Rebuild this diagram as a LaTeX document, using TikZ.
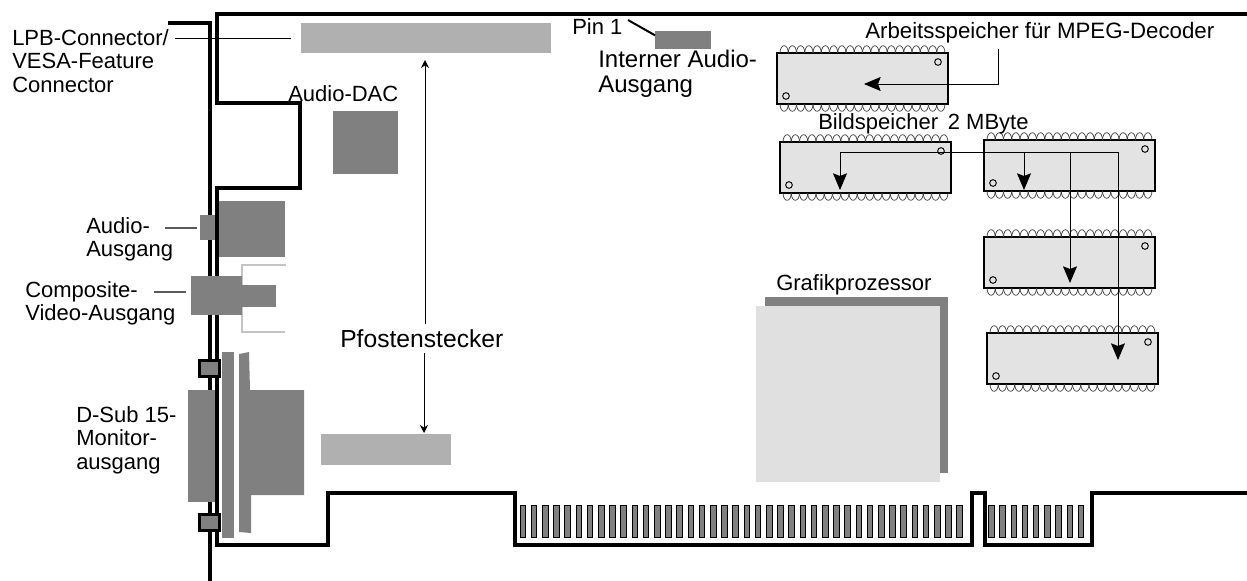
\documentclass[tikz,border=0pt]{standalone}
\usepackage{fontspec}
\usepackage{tikz}
\usepackage{xcolor}
\usetikzlibrary{arrows.meta,positioning,calc}
\setmainfont{Liberation Sans}
\definecolor{partdark}{HTML}{808080}
\definecolor{partlight}{HTML}{B0B0B0}
\definecolor{chipfill}{HTML}{E3E3E3}
\definecolor{cpufill}{HTML}{E0E0E0}
\definecolor{rimgrey}{HTML}{C4C4C4}
\tikzset{
  txt/.style={font=\fontsize{16.5}{17.7}\selectfont, align=left, inner sep=0pt, anchor=north west},
  txtwide/.style={txt, font=\fontsize{18.5}{20}\selectfont},
  darkpart/.style={fill=partdark, inner sep=0pt, outer sep=0pt, anchor=north west},
  lightpart/.style={fill=partlight, inner sep=0pt, outer sep=0pt, anchor=north west},
  chipbody/.style={draw=black, line width=0.9pt, fill=chipfill, inner sep=0pt, outer sep=0pt, anchor=north west, minimum width=128.25pt, minimum height=38.25pt},
  chippin/.style={draw=black!75, line width=0.55pt},
  lug/.style={draw=black, line width=2.3pt, fill=partdark, inner sep=0pt, anchor=north west, minimum width=15pt, minimum height=12pt},
  finger/.style={draw=black, line width=0.5pt, fill=partdark},
  board/.style={draw=black, line width=2.6pt, line join=miter},
  leader/.style={draw=black, line width=0.7pt},
  leadergrey/.style={draw=black!65, line width=0.8pt},
  bigflow/.style={-{Stealth[length=12.5pt, width=10.5pt, inset=2pt]}, draw=black, line width=0.7pt},
  smallflow/.style={-{Stealth[length=6pt, width=6pt]}, draw=black, line width=0.7pt}
}
\newcommand{\memchip}[3]{
  \node[chipbody] (#1) at (#2,#3) {};
  \foreach \i in {0,...,19}{
    \draw[chippin] ({#2+3+8.25*\i},#3) arc[start angle=180, end angle=0, x radius=3.09pt, y radius=5.5pt];
    \draw[chippin] ({#2+3+8.25*\i},#3+51) arc[start angle=180, end angle=360, x radius=3.09pt, y radius=5.5pt];
  }
  \draw[line width=2.2pt] (#1.north west) -- (#1.south west);
  \draw[line width=0.7pt] (#2+161,#3+9) circle[radius=2.5pt];
  \draw[line width=0.7pt] (#2+9,#3+43) circle[radius=2.5pt];
}

\begin{document}
\begin{tikzpicture}[x=0.75pt, y=-0.75pt]
  \useasboundingbox (0,0) rectangle (1247,581);

  % Slotblech
  \draw[board] (168,23) -- (210,23) -- (210,581);
  \node[darkpart, minimum width=22.5pt, minimum height=84pt] (dsubleft) at (188,390) {};
  \node[darkpart, minimum width=13.5pt, minimum height=18.75pt] (audioplug) at (200,215) {};

  % Platine
  \draw[board] (1247,14) -- (217,14) -- (217,103) -- (300,103) -- (300,188) -- (217,188) -- (217,545)
    -- (328,545) -- (328,493) -- (515,493) -- (515,545) -- (972,545) -- (972,493) -- (985,493) -- (985,545)
    -- (1092,545) -- (1092,493) -- (1247,493);
  \foreach \i in {0,...,39}{
    \draw[finger] ({520+11.2*\i},505) rectangle ++(5.5,32);
  }
  \foreach \i in {0,...,8}{
    \draw[finger] ({988.5+11.2*\i},505) rectangle ++(5.5,32);
  }

  % Anschluesse
  \node[lightpart, minimum width=187.5pt, minimum height=22.5pt] (lpb) at (301,23) {};
  \node[lightpart, minimum width=97.5pt, minimum height=23.25pt] (header) at (321,434) {};
  \node[darkpart, minimum width=48.75pt, minimum height=47.25pt] (dac) at (333,111) {};
  \node[darkpart, minimum width=49.5pt, minimum height=42pt] (audiobox) at (219,201) {};
  \draw[draw=rimgrey, line width=0.8pt] (286,265) -- (242,265) -- (242,332) -- (285,332);
  \node[darkpart, minimum width=38.25pt, minimum height=29.25pt] (videobox) at (191,276) {};
  \node[darkpart, minimum width=25.5pt, minimum height=16.5pt] (videotip) at (242,285) {};
  \node[darkpart, minimum width=42pt, minimum height=13.5pt] (pinhead) at (655,31) {};
  \node[darkpart, minimum width=9pt, minimum height=139.5pt] (dsubplate) at (222,352) {};
  \fill[partdark] (239,354) -- (249,352) -- (250,390) -- (304,390) -- (304,495) -- (251,495) -- (251,533) -- (239,532) -- cycle;
  \node[lug] (lugtop) at (198,359) {};
  \node[lug] (lugbottom) at (198,513) {};

  % Grafikprozessor
  \node[darkpart, minimum width=137.25pt, minimum height=132pt] (cpuback) at (765,297) {};
  \node[fill=cpufill, inner sep=0pt, outer sep=0pt, anchor=north west, minimum width=138pt, minimum height=132pt] (cpu) at (756,306) {};

  % Speicher
  \memchip{ramchip}{777}{53}
  \memchip{bildchipa}{780}{142}
  \memchip{bildchipb}{984}{140}
  \memchip{bildchipc}{984}{237}
  \memchip{bildchipd}{987}{333}

  % Beschriftung
  \node[txt] (lpbtext) at (12,29) {LPB-Connector/\\VESA-Feature\\Connector};
  \node[txt] (dactext) at (288,85) {Audio-DAC};
  \node[txt] (audiotext) at (86,217) {Audio-\\Ausgang};
  \node[txt] (videotext) at (25,281) {Composite-\\Video-Ausgang};
  \node[txt] (dsubtext) at (76,406) {D-Sub 15-\\Monitor-\\ausgang};
  \node[txtwide] (headertext) at (340,329) {Pfostenstecker};
  \node[txt] (pintext) at (572,18) {Pin 1};
  \node[txt, font=\fontsize{18}{18.7}\selectfont] (pinout) at (598,50) {Interner Audio-\\Ausgang};
  \node[txt, font=\fontsize{16.7}{18}\selectfont] (ramtext) at (865,22) {Arbeitsspeicher für MPEG-Decoder};
  \node[txt] (bildtext) at (818,113) {Bildspeicher\, 2 MByte};
  \node[txt] (cputext) at (776,274) {Grafikprozessor};

  % Hinweislinien
  \draw[leader] ([xshift=4.5pt]lpbtext.east |- 0,38) -- ([xshift=-7.5pt]lpb.west |- 0,38);
  \draw[leadergrey] (165,228) -- ([xshift=-2pt]audioplug.west |- 0,228);
  \draw[leadergrey] (154,292) -- ([xshift=-3.5pt]videobox.west |- 0,292);
  \draw[board, line width=1.5pt] (628,20) -- ([yshift=3.5pt]pinhead.west);

  % Pfeile
  \coordinate (headerup) at (425,60);
  \coordinate (headerdown) at (424,433);
  \coordinate (ramtip) at (864,84);
  \coordinate (ramdrop) at (998,49);
  \coordinate (busright) at (1118,152);
  \coordinate (tipa) at (840,190);
  \coordinate (tipb) at (1024,190);
  \coordinate (tipc) at (1070,283);
  \coordinate (tipd) at (1118,360);
  \draw[smallflow] (headerup |- headertext.north) ++(0,-5) -- (headerup);
  \draw[smallflow] (headerdown |- headertext.south) ++(0,5) -- (headerdown);
  \draw[bigflow] (ramdrop) |- (ramtip);
  \draw[bigflow] (busright) -| (tipa);
  \draw[bigflow] (tipb |- busright) -- (tipb);
  \draw[bigflow] (tipc |- busright) -- (tipc);
  \draw[bigflow] (busright) -- (tipd);
\end{tikzpicture}
\end{document}
